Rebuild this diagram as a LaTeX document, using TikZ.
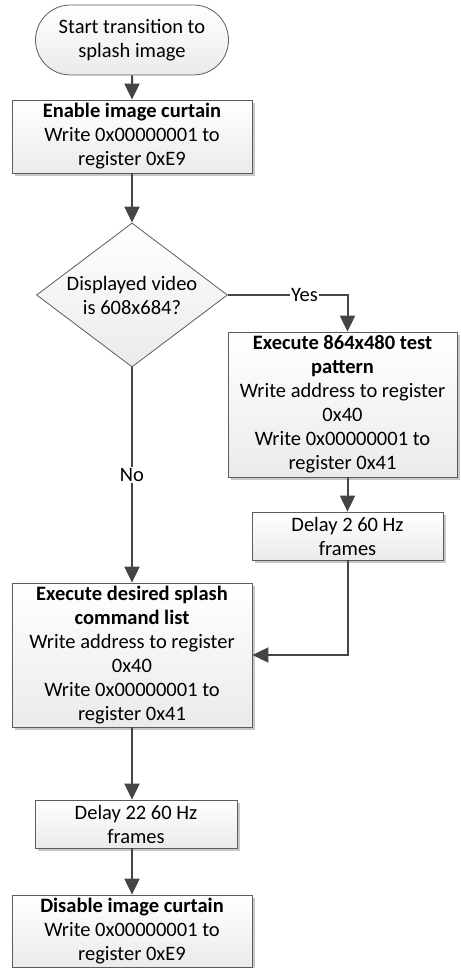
\documentclass[tikz,border=0pt]{standalone}
\usepackage{fontspec}
\setmainfont{Carlito}
\usetikzlibrary{arrows.meta,shapes.geometric,shapes.misc,shadows,calc}

\definecolor{flowline}{HTML}{454545}
\definecolor{flowedge}{HTML}{5C5C5C}
\definecolor{flowshade}{HTML}{C8C8C8}

\begin{document}
\begin{tikzpicture}[x=1pt, y=-1pt,
    font=\fontsize{20.5pt}{24pt}\selectfont,
    boxfill/.style={draw=flowedge, line width=0.8pt, top color=white, bottom color=black!8},
    process/.style={boxfill, rectangle, align=center, inner sep=0pt,
        drop shadow={shadow xshift=3pt, shadow yshift=-3pt, fill=flowshade, opacity=1}},
    terminal/.style={boxfill, rounded rectangle, align=center, inner sep=0pt,
        minimum width=193pt, minimum height=70pt},
    decision/.style={boxfill, diamond, inner sep=0pt,
        minimum width=191pt, minimum height=144pt},
    flow/.style={draw=flowline, line width=2pt, -{Triangle[width=15pt,length=16pt]}},
    tag/.style={fill=white, inner sep=1pt}]

    % Fix the page size
    \useasboundingbox (0,0) rectangle (460,968);

    % Main column
    \node[terminal] (start) at (132,40) {Start transition to\\splash image};
    \node[process, minimum width=240pt, minimum height=73pt] (curtainon) at (132,136.5)
        {\textbf{Enable image curtain}\\Write 0x00000001 to\\register 0xE9};
    \node[decision] (check) at (132,295) {};
    \node[align=center] (checktext) at (check) {Displayed video\\is 608x684?};

    % Side branch
    \node[process, minimum width=229pt, minimum height=145pt] (testpat) at (342.5,404.5)
        {\textbf{Execute 864x480 test}\\\textbf{pattern}\\Write address to register\\0x40\\Write 0x00000001 to\\register 0x41};
    \node[process, minimum width=191pt, minimum height=48pt] (waitshort) at (347.5,536)
        {Delay 2 60 Hz\\frames};

    % Rest of main column
    \node[process, minimum width=240pt, minimum height=144pt] (splash) at (132,655)
        {\textbf{Execute desired splash}\\\textbf{command list}\\Write address to register\\0x40\\Write 0x00000001 to\\register 0x41};
    \node[process, minimum width=202pt, minimum height=48pt] (waitlong) at (136,824)
        {Delay 22 60 Hz\\frames};
    \node[process, minimum width=240pt, minimum height=72pt] (curtainoff) at (132,931)
        {\textbf{Disable image curtain}\\Write 0x00000001 to\\register 0xE9};

    % Draw connectors
    \coordinate (testin) at ($(testpat.north)+(5,0)$);
    \draw[flow] (start) -- (curtainon);
    \draw[flow] (curtainon) -- (check);
    \draw[flow] (check.east) -| node[tag, pos=0.32] {Yes} (testin);
    \draw[flow] (testpat.south -| waitshort.north) -- (waitshort.north);
    \draw[flow] (waitshort.south) |- (splash.east);
    \draw[flow] (check.south) -- node[tag] {No} (splash.north);
    \draw[flow] (splash.south) -- (splash.south |- waitlong.north);
    \draw[flow] (waitlong.south -| curtainoff.north) -- (curtainoff.north);
\end{tikzpicture}
\end{document}
